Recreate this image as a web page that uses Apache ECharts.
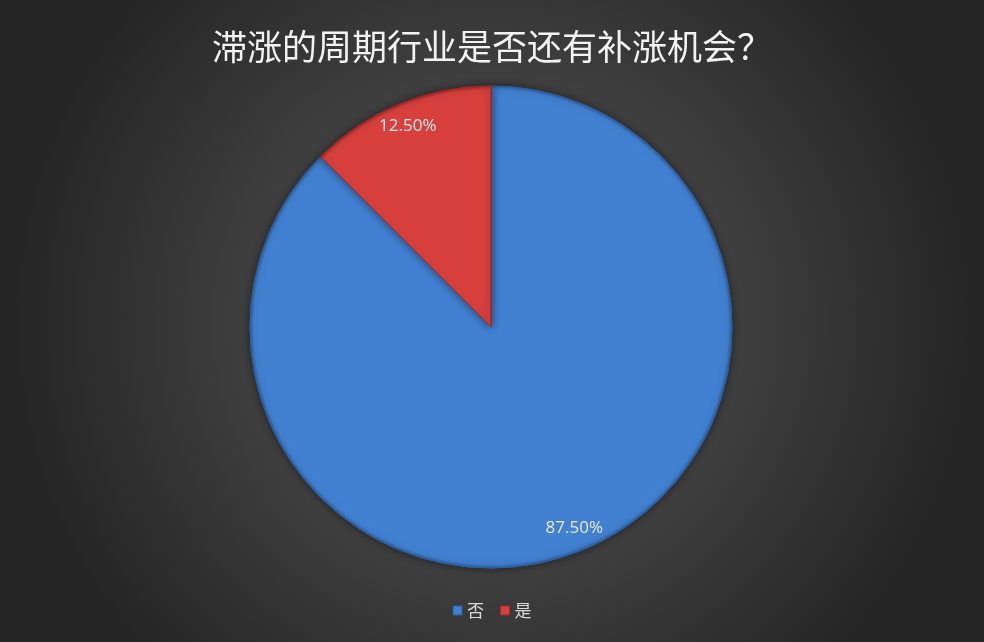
<!DOCTYPE html>
<html>
<head>
<meta charset="utf-8">
<script src="https://cdn.jsdelivr.net/npm/echarts@6/dist/echarts.min.js"></script>
<style>html,body{margin:0;padding:0;}#c{width:984px;height:642px;}</style>
</head>
<body>
<div id="c"></div>
<script>
var titleText = '滞涨的周期行业是否还有补涨机会？';
var categories = ['否', '是'];
var values = [87.5, 12.5];
var colors = ['#4281d2', '#d7403d'];
var edgeColors = ['#2d5f9e', '#9e2a28'];

var cx = 491, cy = 327, R = 241;

function sliceStyle(i) {
  return {
    color: {
      type: 'radial', x: cx, y: cy, r: R, global: true,
      colorStops: [
        { offset: 0, color: colors[i] },
        { offset: 0.955, color: colors[i] },
        { offset: 0.985, color: colors[i] },
        { offset: 1, color: edgeColors[i] }
      ]
    },
    borderColor: edgeColors[i],
    borderWidth: 1,
    shadowBlur: 8,
    shadowColor: 'rgba(0,0,0,0.45)'
  };
}

var pieData = categories.map(function (n, i) {
  return { name: n, value: values[i], itemStyle: sliceStyle(i) };
});
var labelData = categories.map(function (n, i) {
  return { name: n, value: values[i] };
});
var legendData = categories.map(function (n, i) {
  return {
    name: n,
    itemStyle: { color: colors[i], borderColor: edgeColors[i], borderWidth: 1 }
  };
});

var chart = echarts.init(document.getElementById('c'));
chart.setOption({
  backgroundColor: {
    type: 'radial', x: 0.5, y: 0.5, r: 0.75,
    colorStops: [
      { offset: 0, color: '#5a5a5a' },
      { offset: 1, color: '#252525' }
    ]
  },
  title: {
    text: titleText,
    left: 'center',
    top: 24,
    textStyle: {
      color: '#f2f2f2',
      fontSize: 35,
      fontWeight: 'normal',
      fontFamily: 'Noto Sans CJK SC'
    }
  },
  legend: {
    data: legendData,
    left: 'center',
    top: 597,
    icon: 'rect',
    itemWidth: 9,
    itemHeight: 9,
    itemGap: 16,
    textStyle: { color: '#d9d9d9', fontSize: 17, fontFamily: 'Noto Sans CJK SC' }
  },
  color: colors,
  series: [
    {
      type: 'pie',
      center: [cx, cy],
      radius: [0, R],
      startAngle: 90,
      clockwise: true,
      silent: true,
      label: { show: false },
      labelLine: { show: false },
      emphasis: { disabled: true },
      data: pieData
    },
    {
      type: 'pie',
      center: [cx, cy],
      radius: [R * 0.78, R],
      startAngle: 90,
      clockwise: true,
      silent: true,
      legendHoverLink: false,
      itemStyle: { color: 'rgba(0,0,0,0)', borderWidth: 0 },
      emphasis: { disabled: true },
      label: {
        show: true,
        position: 'inside',
        color: '#e8e8e8',
        fontSize: 17,
        fontFamily: 'Open Sans',
        formatter: function (p) { return p.value.toFixed(2) + '%'; }
      },
      labelLine: { show: false },
      data: labelData
    }
  ]
});
</script>
</body>
</html>
